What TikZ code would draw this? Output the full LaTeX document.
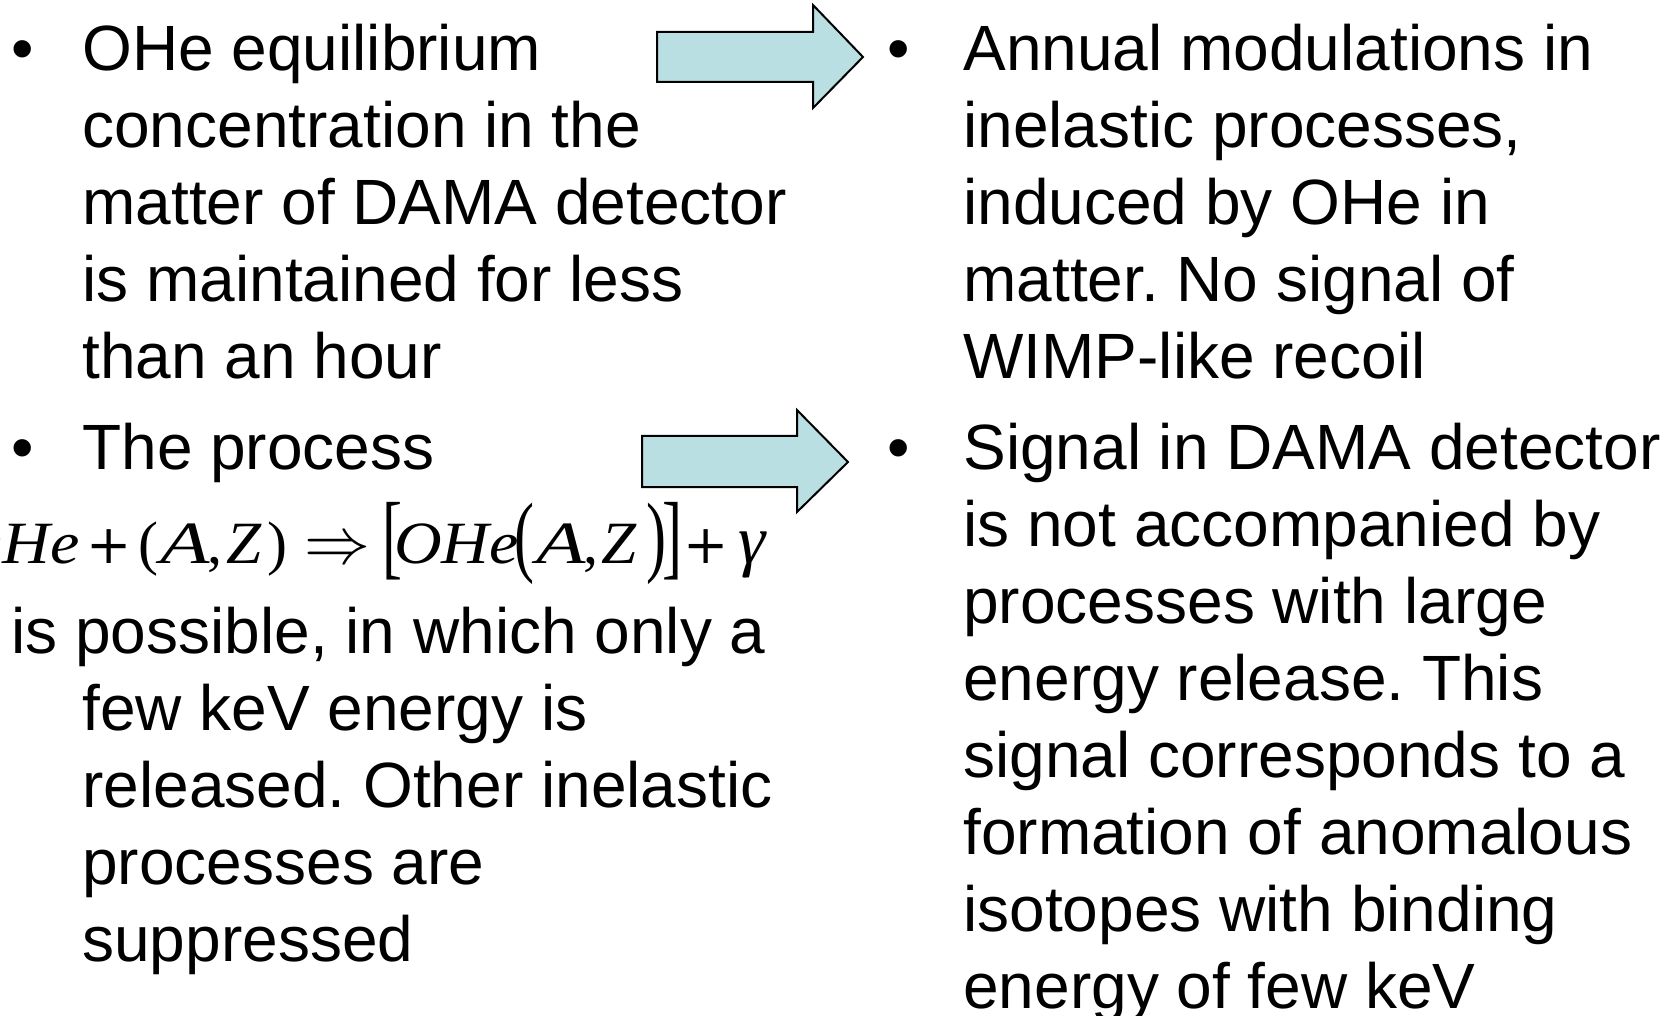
\documentclass[tikz,border=0pt]{standalone}
\usepackage{graphicx}
\usepackage{fontspec}
\setmainfont{Liberation Sans}
\newfontfamily\fserif{Liberation Serif}
\newfontfamily\fplus{DejaVu Serif}
\definecolor{arrowfill}{RGB}{185,223,226}
% place a piece centred at a horizontal offset inside the formula node
\newcommand{\pc}[2]{\makebox[0pt][l]{\hspace*{#1}\makebox[0pt]{#2}}}
\newcommand{\hs}[2]{\scalebox{#1}[1]{#2}}
\newcommand{\plussign}{{\fontsize{27}{30}\fplus\upshape +}}
\newcommand{\implies}{\resizebox{33pt}{!}{$\Rightarrow$}}
\newcommand{\bigbr}[1]{\raisebox{-2.1pt}{\scalebox{1}[1.565]{#1}}}
\newcommand{\bigpar}[1]{\raisebox{-1.4pt}{\scalebox{1}[1.5]{#1}}}
\tikzset{
  txtline/.style={anchor=base west, inner sep=0pt, font=\fontsize{32}{38.5}\selectfont},
  bul/.style={anchor=base, inner sep=0pt, font=\fontsize{32}{38.5}\selectfont},
  formula/.style={anchor=base west, inner sep=0pt, font=\fontsize{30}{36}\fserif},
  bigarrow/.style={draw=black, line width=1pt, fill=arrowfill, line join=miter},
}
\frenchspacing
\begin{document}
\begin{tikzpicture}[x=0.5pt,y=-0.5pt]
\useasboundingbox (0,0) rectangle (1672,1016);
% arrows
\draw[bigarrow] (657,32) -- (813,32) -- (813,5) -- (863,57) -- (813,108) -- (813,82) -- (657,82) -- cycle;
\draw[bigarrow] (642,436) -- (797,436) -- (797,410) -- (848,462) -- (797,512) -- (797,487) -- (642,487) -- cycle;
% left column
\node[bul] (b1) at (23,71) {•};
\node[txtline] (l1) at (82,71) {OHe equilibrium};
\node[txtline] (l2) at (82,148) {concentration in the};
\node[txtline] (l3) at (82,225) {matter of DAMA detector};
\node[txtline] (l4) at (82,302) {is maintained for less};
\node[txtline] (l5) at (82,379) {than an hour};
\node[bul] (b2) at (23,469) {•};
\node[txtline] (l6) at (82,469) {The process};
\node[formula] (eq) at (0,563) {%
\makebox[0pt][l]{\hspace*{39pt}\makebox[0pt][r]{\hs{1.1}{\itshape OHe}}}%
\pc{53.75pt}{\plussign}%
\pc{73.75pt}{(}%
\pc{92pt}{\hs{1.35}{\itshape A}}%
\pc{107pt}{,}%
\pc{121.5pt}{\hs{1.05}{\itshape Z}}%
\pc{138pt}{)}%
\pc{168pt}{\implies}%
\pc{195.5pt}{\bigbr{[}}%
\pc{227.5pt}{\hs{1.1}{\itshape OHe}}%
\pc{261.5pt}{\bigpar{(}}%
\pc{280pt}{\hs{1.35}{\itshape A}}%
\pc{295pt}{,}%
\pc{309pt}{\hs{1.05}{\itshape Z}}%
\pc{327.5pt}{\bigpar{)}}%
\pc{335.5pt}{\bigbr{]}}%
\pc{352.25pt}{\plussign}%
\pc{375.5pt}{\scalebox{1.15}{\itshape γ}}%
};
\node[txtline] (l7) at (11,653) {is possible, in which only a};
\node[txtline] (l8) at (82,730) {few keV energy is};
\node[txtline] (l9) at (82,807) {released. Other inelastic};
\node[txtline] (l10) at (82,884) {processes are};
\node[txtline] (l11) at (82,961) {suppressed};
% right column
\node[bul] (b3) at (899,71) {•};
\node[txtline] (r1) at (963,71) {Annual modulations in};
\node[txtline] (r2) at (963,148) {inelastic processes,};
\node[txtline] (r3) at (963,225) {induced by OHe in};
\node[txtline] (r4) at (963,302) {matter. No signal of};
\node[txtline] (r5) at (963,379) {WIMP-like recoil};
\node[bul] (b4) at (899,469) {•};
\node[txtline] (r6) at (963,469) {Signal in DAMA detector};
\node[txtline] (r7) at (963,546) {is not accompanied by};
\node[txtline] (r8) at (963,623) {processes with large};
\node[txtline] (r9) at (963,700) {energy release. This};
\node[txtline] (r10) at (963,777) {signal corresponds to a};
\node[txtline] (r11) at (963,854) {formation of anomalous};
\node[txtline] (r12) at (963,931) {isotopes with binding};
\node[txtline] (r13) at (963,1008) {energy of few keV};
\end{tikzpicture}
\end{document}
